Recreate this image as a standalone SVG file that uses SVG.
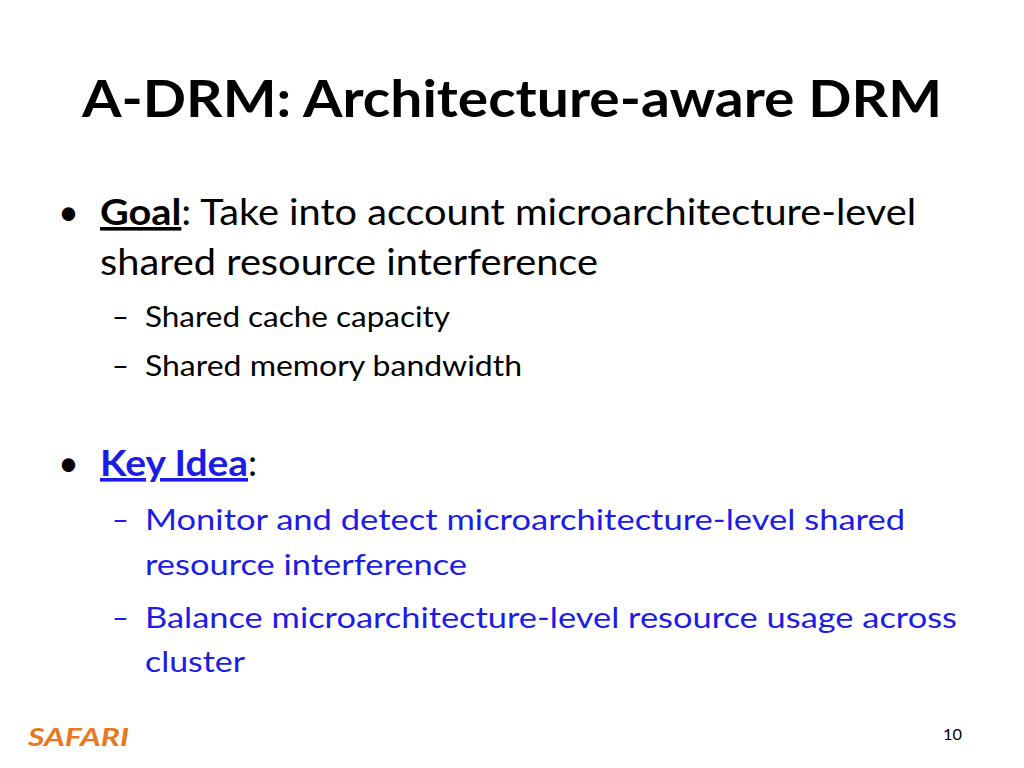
<svg xmlns="http://www.w3.org/2000/svg" width="1024" height="768" viewBox="0 0 1024 768">
<style>
text{font-family:Lato,"Open Sans","Liberation Sans",sans-serif;fill:#000}
.b{font-size:36px}
.s{font-size:29px}
.blue{fill:#1C1CE6}
</style>
<rect width="1024" height="768" fill="#fff"/>
<text x="82" y="117" font-size="52" font-weight="bold" textLength="860" lengthAdjust="spacingAndGlyphs">A-DRM: Architecture-aware DRM</text>
<text x="58" y="225" class="b">•</text>
<text x="100" y="225" class="b" textLength="816" lengthAdjust="spacingAndGlyphs"><tspan font-weight="bold" text-decoration="underline">Goal</tspan>: Take into account microarchitecture-level</text>
<text x="100" y="275" class="b" textLength="498" lengthAdjust="spacingAndGlyphs">shared resource interference</text>
<text x="112" y="327" class="s">–</text>
<text x="145" y="327" class="s" textLength="305" lengthAdjust="spacingAndGlyphs">Shared cache capacity</text>
<text x="112" y="376" class="s">–</text>
<text x="145" y="376" class="s" textLength="377" lengthAdjust="spacingAndGlyphs">Shared memory bandwidth</text>
<text x="58" y="476" class="b">•</text>
<text x="100" y="476" class="b"><tspan class="blue" font-weight="bold" text-decoration="underline" textLength="148" lengthAdjust="spacingAndGlyphs">Key Idea</tspan>:</text>
<text x="112" y="530" class="s blue">–</text>
<text x="145" y="530" class="s blue" textLength="760" lengthAdjust="spacingAndGlyphs">Monitor and detect microarchitecture-level shared</text>
<text x="145" y="575" class="s blue" textLength="322" lengthAdjust="spacingAndGlyphs">resource interference</text>
<text x="112" y="628" class="s blue">–</text>
<text x="145" y="628" class="s blue" textLength="812" lengthAdjust="spacingAndGlyphs">Balance microarchitecture-level resource usage across</text>
<text x="145" y="672" class="s blue" textLength="100" lengthAdjust="spacingAndGlyphs">cluster</text>
<text x="28" y="746" font-size="25" font-weight="bold" font-style="italic" style="fill:#E8781E" textLength="101" lengthAdjust="spacingAndGlyphs">SAFARI</text>
<text x="943" y="740" font-size="16" textLength="19" lengthAdjust="spacingAndGlyphs">10</text>
</svg>
